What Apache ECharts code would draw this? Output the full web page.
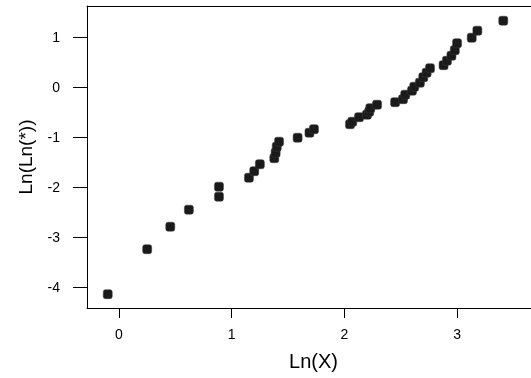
<!DOCTYPE html>
<html>
<head>
<meta charset="utf-8">
<script src="https://cdn.jsdelivr.net/npm/echarts@6/dist/echarts.min.js"></script>
<style>
html,body{margin:0;padding:0;background:#fff;}
#chart{width:531px;height:378px;}
</style>
</head>
<body>
<div id="chart"></div>
<script>
const lnX = [-0.10, 0.25, 0.455, 0.62, 0.887, 0.887, 1.153, 1.20, 1.25, 1.378, 1.39, 1.40, 1.42,
  1.585, 1.69, 1.73, 2.05, 2.07, 2.13, 2.20, 2.22, 2.23, 2.29, 2.45, 2.52, 2.54, 2.60, 2.62,
  2.67, 2.70, 2.73, 2.76, 2.88, 2.91, 2.95, 2.98, 3.00, 3.13, 3.18, 3.41];
const lnLn = [-4.13, -3.23, -2.78, -2.44, -2.18, -1.98, -1.80, -1.67, -1.53, -1.41, -1.30, -1.18, -1.08,
  -1.00, -0.90, -0.83, -0.73, -0.68, -0.59, -0.54, -0.48, -0.41, -0.34, -0.29, -0.23, -0.14, -0.06, 0.02,
  0.10, 0.21, 0.30, 0.39, 0.45, 0.54, 0.64, 0.75, 0.89, 1.00, 1.14, 1.34];
const xTicks = [0, 1, 2, 3];
const yTicks = [-4, -3, -2, -1, 0, 1];

const chart = echarts.init(document.getElementById('chart'), null, {renderer: 'canvas'});
const font = 'Liberation Sans, Arial, sans-serif';
chart.setOption({
  animation: false,
  grid: {left: 87, top: 6, right: 0, bottom: 70, show: false},
  xAxis: [{
    type: 'value', min: -0.284, max: 3.656,
    name: 'Ln(X)', nameLocation: 'middle', nameGap: 44,
    nameTextStyle: {fontFamily: font, fontSize: 20, color: '#000', padding: [0, 0, 0, 9]},
    axisLine: {show: true, onZero: false, lineStyle: {color: '#000', width: 1}},
    splitLine: {show: false},
    axisTick: {show: true, customValues: xTicks, length: 10, lineStyle: {color: '#000', width: 1}},
    axisLabel: {customValues: xTicks, fontFamily: font, fontSize: 14, color: '#000', margin: 20}
  }, {
    type: 'value', position: 'top', min: -0.284, max: 3.656,
    axisLine: {show: true, onZero: false, lineStyle: {color: '#000', width: 1}},
    axisTick: {show: false}, axisLabel: {show: false}, splitLine: {show: false}
  }],
  yAxis: {
    type: 'value', min: -4.406, max: 1.634,
    name: 'Ln(Ln(*))', nameLocation: 'middle', nameGap: 50,
    nameTextStyle: {fontFamily: font, fontSize: 19, color: '#000'},
    axisLine: {show: true, onZero: false, lineStyle: {color: '#000', width: 1}},
    splitLine: {show: false},
    axisTick: {show: true, customValues: yTicks, length: 14, lineStyle: {color: '#000', width: 1}},
    axisLabel: {customValues: yTicks, fontFamily: font, fontSize: 14, color: '#000', margin: 27}
  },
  series: [{
    type: 'scatter',
    data: lnX.map((x, i) => [x, lnLn[i]]),
    symbol: 'roundRect',
    symbolSize: 9,
    itemStyle: {color: '#1a1a1a', opacity: 1, borderColor: '#3a3a3a', borderWidth: 0.5}
  }]
});
</script>
</body>
</html>
